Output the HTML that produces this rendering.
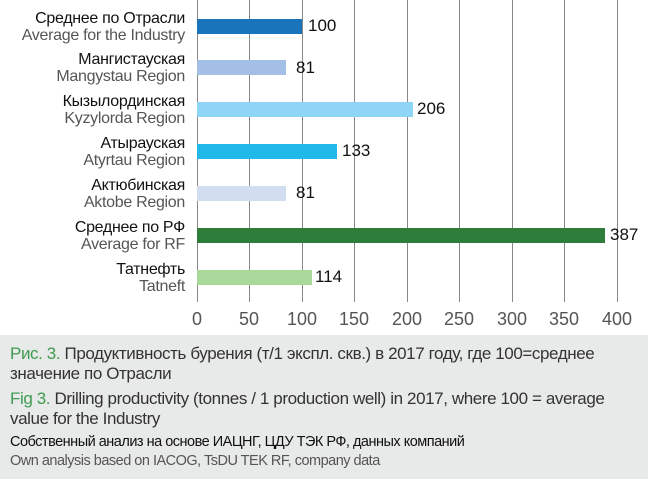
<!DOCTYPE html>
<html><head><meta charset="utf-8"><style>
body{margin:0;width:650px;height:483px;background:#fff;font-family:"Liberation Sans",sans-serif;overflow:hidden;position:relative}
.l{position:absolute;right:465px;text-align:right;font-size:16px;line-height:17px;color:#111;letter-spacing:-0.3px}
.l span{color:#555}
.g{position:absolute;top:0;height:302px;width:1px;background:#888}
.b{position:absolute;left:197px;height:15px}
.v{position:absolute;font-size:17px;color:#111}
.t{position:absolute;top:309px;font-size:18px;color:#555;width:50px;margin-left:-25px;text-align:center}
.p{position:absolute;left:0;top:335px;width:648px;height:144px;background:#e8e9e9}
.c{position:absolute;left:10px;font-size:17px;line-height:20px;color:#333;letter-spacing:-0.4px}
.c b{font-weight:normal;color:#3e9b4f}
</style></head><body>
<div class="g" style="left:197px"></div><div class="g" style="left:249px"></div><div class="g" style="left:302px"></div><div class="g" style="left:354px"></div><div class="g" style="left:407px"></div><div class="g" style="left:459px"></div><div class="g" style="left:512px"></div><div class="g" style="left:564px"></div><div class="g" style="left:617px"></div>
<div class="l" style="top:10px">Среднее по Отрасли<br><span>Average for the Industry</span></div>
<div class="l" style="top:51px">Мангистауская<br><span>Mangystau Region</span></div>
<div class="l" style="top:93px">Кызылординская<br><span>Kyzylorda Region</span></div>
<div class="l" style="top:135px">Атырауская<br><span>Atyrtau Region</span></div>
<div class="l" style="top:177px">Актюбинская<br><span>Aktobe Region</span></div>
<div class="l" style="top:219px">Среднее по РФ<br><span>Average for RF</span></div>
<div class="l" style="top:261px">Татнефть<br><span>Tatneft</span></div>
<div class="b" style="top:19px;width:105px;background:#1a74bb"></div><div class="v" style="top:16px;left:308px">100</div>
<div class="b" style="top:60px;width:89px;background:#a3bfe6"></div><div class="v" style="top:58px;left:296px">81</div>
<div class="b" style="top:102px;width:216px;background:#8fd6f6"></div><div class="v" style="top:99px;left:417px">206</div>
<div class="b" style="top:144px;width:140px;background:#20b9ea"></div><div class="v" style="top:141px;left:342px">133</div>
<div class="b" style="top:186px;width:89px;background:#d2def0"></div><div class="v" style="top:183px;left:296px">81</div>
<div class="b" style="top:228px;width:408px;background:#2f7d3a"></div><div class="v" style="top:225px;left:610px">387</div>
<div class="b" style="top:270px;width:115px;background:#a9d89a"></div><div class="v" style="top:267px;left:315px">114</div>
<div class="t" style="left:197px">0</div><div class="t" style="left:249px">50</div><div class="t" style="left:302px">100</div><div class="t" style="left:354px">150</div><div class="t" style="left:407px">200</div><div class="t" style="left:459px">250</div><div class="t" style="left:512px">300</div><div class="t" style="left:564px">350</div><div class="t" style="left:617px">400</div>
<div class="p"></div>
<div class="c" style="top:344px"><b>Рис. 3.</b> Продуктивность бурения (т/1 экспл. скв.) в 2017 году, где 100=среднее<br>значение по Отрасли</div>
<div class="c" style="top:389px"><b>Fig 3.</b> Drilling productivity (tonnes / 1 production well) in 2017, where 100 = average<br>value for the Industry</div>
<div class="c" style="top:433px;font-size:14.5px;line-height:19px;color:#111;letter-spacing:-0.5px">Собственный анализ на основе ИАЦНГ, ЦДУ ТЭК РФ, данных компаний<br><span style="color:#555">Own analysis based on IACOG, TsDU TEK RF, company data</span></div>
</body></html>
